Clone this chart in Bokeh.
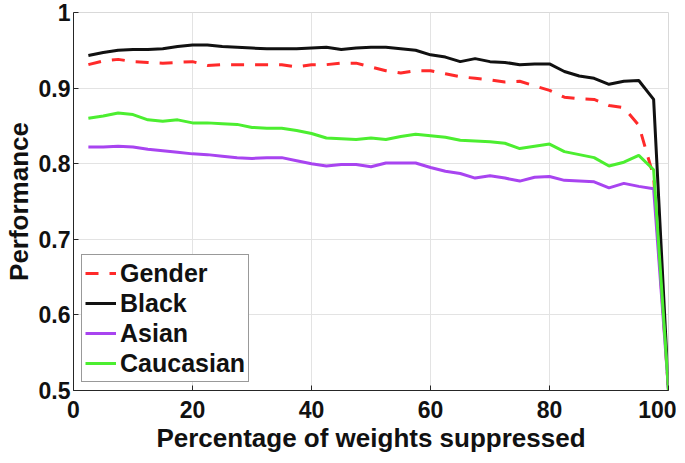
from bokeh.plotting import figure
from bokeh.models import FixedTicker, Legend, LegendItem
from bokeh.embed import file_html
from bokeh.resources import INLINE

x = [2.5 * i for i in range(1, 41)]

gender = [0.931, 0.936, 0.938, 0.935, 0.934, 0.933, 0.934, 0.935, 0.930, 0.931,
          0.931, 0.931, 0.931, 0.931, 0.928, 0.931, 0.931, 0.933, 0.933, 0.928,
          0.923, 0.920, 0.923, 0.923, 0.919, 0.915, 0.913, 0.911, 0.908, 0.909,
          0.903, 0.897, 0.888, 0.886, 0.885, 0.877, 0.874, 0.851, 0.783, 0.5]

black = [0.943, 0.947, 0.950, 0.951, 0.951, 0.952, 0.955, 0.957, 0.957, 0.955,
         0.954, 0.953, 0.952, 0.952, 0.952, 0.953, 0.954, 0.951, 0.953, 0.954,
         0.954, 0.952, 0.950, 0.944, 0.941, 0.935, 0.939, 0.935, 0.934, 0.931,
         0.932, 0.932, 0.922, 0.916, 0.913, 0.905, 0.909, 0.910, 0.885, 0.5]

asian = [0.822, 0.822, 0.823, 0.822, 0.819, 0.817, 0.815, 0.813, 0.812, 0.810,
         0.808, 0.807, 0.808, 0.808, 0.804, 0.800, 0.797, 0.799, 0.799, 0.796,
         0.801, 0.801, 0.801, 0.795, 0.790, 0.787, 0.781, 0.784, 0.781, 0.777,
         0.782, 0.783, 0.778, 0.777, 0.776, 0.768, 0.774, 0.770, 0.767, 0.5]

caucasian = [0.860, 0.863, 0.867, 0.865, 0.858, 0.856, 0.858, 0.854, 0.854, 0.853,
             0.852, 0.848, 0.847, 0.847, 0.844, 0.840, 0.834, 0.833, 0.832, 0.834,
             0.832, 0.836, 0.839, 0.837, 0.835, 0.831, 0.830, 0.829, 0.827, 0.820,
             0.823, 0.826, 0.816, 0.812, 0.808, 0.797, 0.802, 0.811, 0.792, 0.5]

x_ticks = [0, 20, 40, 60, 80, 100]
y_ticks = [0.5, 0.6, 0.7, 0.8, 0.9, 1.0]

FONT = "Liberation Sans"

p = figure(width=676, height=455, x_range=(0, 100), y_range=(0.5, 1.0),
           output_backend="svg", toolbar_location=None,
           min_border_top=12, min_border_right=8, min_border_left=10, min_border_bottom=10)

p.background_fill_color = "white"
p.border_fill_color = "white"
p.outline_line_color = "#d9d9d9"
p.outline_line_width = 1

p.xgrid.grid_line_color = "#e3e3e3"
p.ygrid.grid_line_color = "#e3e3e3"
p.xgrid.grid_line_width = 1
p.ygrid.grid_line_width = 1

p.xaxis.ticker = FixedTicker(ticks=x_ticks)
p.yaxis.ticker = FixedTicker(ticks=y_ticks)
p.yaxis.major_label_overrides = {1.0: "1", 0.5: "0.5", 0.6: "0.6", 0.7: "0.7", 0.8: "0.8", 0.9: "0.9"}

for ax in (p.xaxis[0], p.yaxis[0]):
    ax.axis_line_color = "#262626"
    ax.axis_line_width = 1
    ax.major_tick_line_color = "#262626"
    ax.major_tick_in = 5
    ax.major_tick_out = 0
    ax.minor_tick_line_color = None
    ax.major_label_text_font = FONT
    ax.major_label_text_font_style = "bold"
    ax.major_label_text_font_size = "23px"
    ax.major_label_text_color = "#111111"
    ax.axis_label_text_font = FONT
    ax.axis_label_text_font_style = "bold"
    ax.axis_label_text_font_size = "26px"
    ax.axis_label_text_color = "#111111"

p.xaxis.axis_label = "Percentage of weights suppressed"
p.yaxis.axis_label = "Performance"
p.xaxis.major_label_standoff = 10
p.xaxis.axis_label_standoff = 2
p.yaxis.major_label_standoff = 3
p.yaxis.axis_label_standoff = 2

r_gender = p.line(x, gender, line_color="#ff2a2a", line_width=3, line_dash="13 11")
r_black = p.line(x, black, line_color="#111111", line_width=3)
r_asian = p.line(x, asian, line_color="#a844f0", line_width=3)
r_cauc = p.line(x, caucasian, line_color="#4cee30", line_width=3)

legend = Legend(items=[
    LegendItem(label="Gender", renderers=[r_gender]),
    LegendItem(label="Black", renderers=[r_black]),
    LegendItem(label="Asian", renderers=[r_asian]),
    LegendItem(label="Caucasian", renderers=[r_cauc]),
], location="bottom_left")
legend.label_text_font = FONT
legend.label_text_font_style = "bold"
legend.label_text_font_size = "25px"
legend.label_text_color = "#111111"
legend.glyph_width = 31
legend.glyph_height = 30
legend.label_height = 30
legend.label_standoff = 4
legend.spacing = 0
legend.padding = 3
legend.margin = 8
legend.border_line_color = "#333333"
legend.border_line_width = 1
legend.background_fill_color = "white"
legend.background_fill_alpha = 1.0
p.add_layout(legend)

open("out.html", "w").write(file_html(p, INLINE))
